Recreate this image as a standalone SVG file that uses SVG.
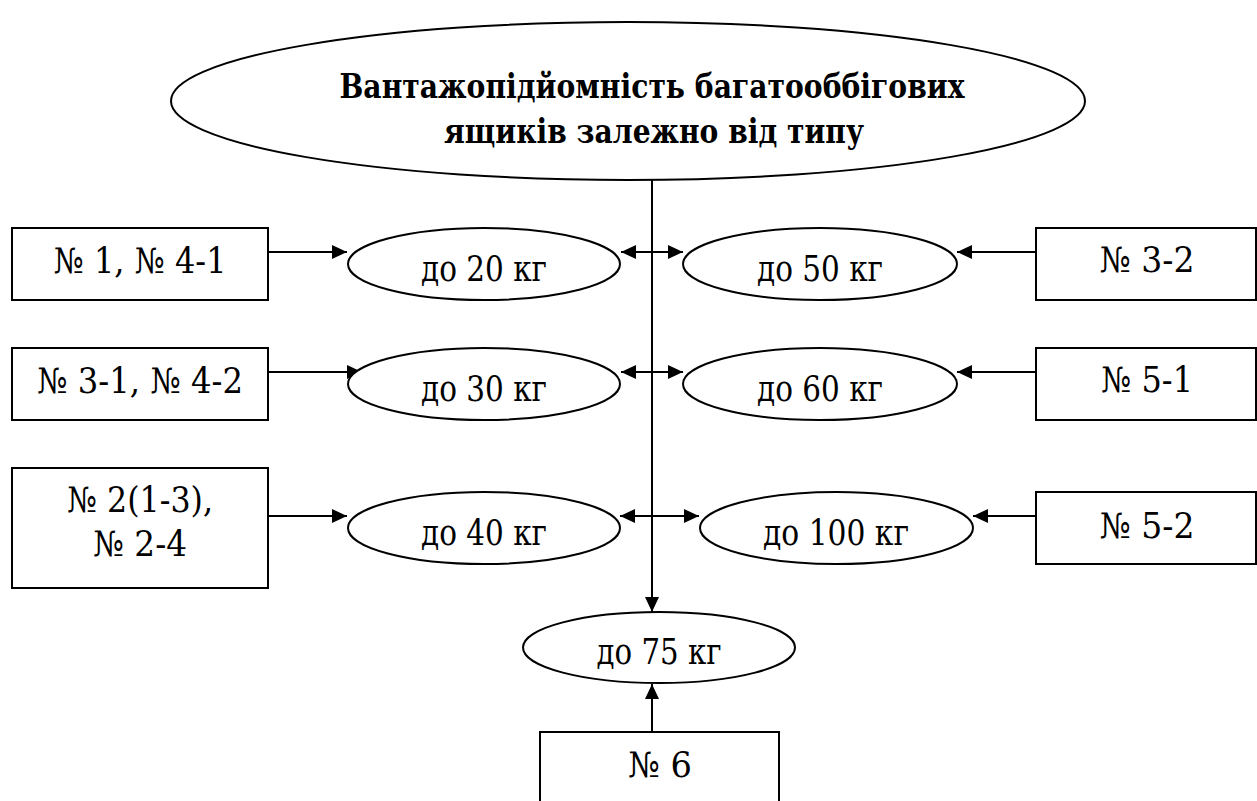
<svg xmlns="http://www.w3.org/2000/svg" width="1257" height="801" viewBox="0 0 1257 801">
  <style>
    .shape { fill: #fff; stroke: #000; stroke-width: 2; }
    .t { font-family: 'DejaVu Serif', serif; font-size: 35px; fill: #000; text-anchor: middle; }
    .title { font-weight: bold; font-size: 34px; }
    .conn { stroke: #000; stroke-width: 2; fill: none; }
  </style>
  <defs>
    <marker id="ah" markerUnits="userSpaceOnUse" markerWidth="16" markerHeight="15" refX="15" refY="7" orient="auto">
      <path d="M0,0 L15,7 L0,14 Z" fill="#000"/>
    </marker>
  </defs>
  <rect width="1257" height="801" fill="#fff"/>

  <g id="title">
    <ellipse class="shape" cx="628" cy="101" rx="457" ry="79"/>
    <text class="t title" x="652" y="98" textLength="625" lengthAdjust="spacingAndGlyphs">Вантажопідйомність багатооббігових</text>
    <text class="t title" x="654" y="143" textLength="420" lengthAdjust="spacingAndGlyphs">ящиків залежно від типу</text>
  </g>

  <g id="connectors">
    <line class="conn" x1="652" y1="180" x2="652" y2="612" marker-end="url(#ah)"/>
    <line class="conn" x1="268" y1="252" x2="347" y2="252" marker-end="url(#ah)"/>
    <line class="conn" x1="268" y1="372" x2="362" y2="372" marker-end="url(#ah)"/>
    <line class="conn" x1="268" y1="516" x2="347" y2="516" marker-end="url(#ah)"/>
    <line class="conn" x1="652" y1="252" x2="621" y2="252" marker-end="url(#ah)"/>
    <line class="conn" x1="652" y1="252" x2="683" y2="252" marker-end="url(#ah)"/>
    <line class="conn" x1="652" y1="372" x2="621" y2="372" marker-end="url(#ah)"/>
    <line class="conn" x1="652" y1="372" x2="683" y2="372" marker-end="url(#ah)"/>
    <line class="conn" x1="652" y1="516" x2="620" y2="516" marker-end="url(#ah)"/>
    <line class="conn" x1="652" y1="516" x2="699" y2="516" marker-end="url(#ah)"/>
    <line class="conn" x1="1036" y1="252" x2="957" y2="252" marker-end="url(#ah)"/>
    <line class="conn" x1="1036" y1="372" x2="957" y2="372" marker-end="url(#ah)"/>
    <line class="conn" x1="1036" y1="516" x2="973" y2="516" marker-end="url(#ah)"/>
    <line class="conn" x1="652" y1="732" x2="652" y2="684" marker-end="url(#ah)"/>
  </g>

  <g id="box-1-4-1">
    <rect class="shape" x="12" y="228" width="256" height="72"/>
    <text class="t" x="140" y="273" textLength="173" lengthAdjust="spacingAndGlyphs">№ 1, № 4-1</text>
  </g>
  <g id="box-3-1-4-2">
    <rect class="shape" x="12" y="348" width="256" height="72"/>
    <text class="t" x="140" y="393" textLength="206" lengthAdjust="spacingAndGlyphs">№ 3-1, № 4-2</text>
  </g>
  <g id="box-2-13-2-4">
    <rect class="shape" x="12" y="468" width="256" height="120"/>
    <text class="t" x="140" y="512" textLength="146" lengthAdjust="spacingAndGlyphs">№ 2(1-3),</text>
    <text class="t" x="140" y="556" textLength="94" lengthAdjust="spacingAndGlyphs">№ 2-4</text>
  </g>

  <g id="ell-20">
    <ellipse class="shape" cx="484" cy="264" rx="136" ry="36"/>
    <text class="t" x="484" y="281" textLength="126" lengthAdjust="spacingAndGlyphs">до 20 кг</text>
  </g>
  <g id="ell-30">
    <ellipse class="shape" cx="484" cy="384" rx="136" ry="36"/>
    <text class="t" x="484" y="401" textLength="126" lengthAdjust="spacingAndGlyphs">до 30 кг</text>
  </g>
  <g id="ell-40">
    <ellipse class="shape" cx="484" cy="528" rx="136" ry="36"/>
    <text class="t" x="484" y="545" textLength="126" lengthAdjust="spacingAndGlyphs">до 40 кг</text>
  </g>

  <g id="ell-50">
    <ellipse class="shape" cx="820" cy="264" rx="137" ry="36"/>
    <text class="t" x="820" y="281" textLength="126" lengthAdjust="spacingAndGlyphs">до 50 кг</text>
  </g>
  <g id="ell-60">
    <ellipse class="shape" cx="820" cy="384" rx="137" ry="36"/>
    <text class="t" x="820" y="401" textLength="126" lengthAdjust="spacingAndGlyphs">до 60 кг</text>
  </g>
  <g id="ell-100">
    <ellipse class="shape" cx="836.5" cy="528" rx="136.5" ry="36"/>
    <text class="t" x="836" y="545" textLength="146" lengthAdjust="spacingAndGlyphs">до 100 кг</text>
  </g>

  <g id="box-3-2">
    <rect class="shape" x="1036" y="228" width="220" height="72"/>
    <text class="t" x="1147" y="272" textLength="95" lengthAdjust="spacingAndGlyphs">№ 3-2</text>
  </g>
  <g id="box-5-1">
    <rect class="shape" x="1036" y="348" width="220" height="72"/>
    <text class="t" x="1147" y="392" textLength="92" lengthAdjust="spacingAndGlyphs">№ 5-1</text>
  </g>
  <g id="box-5-2">
    <rect class="shape" x="1036" y="492" width="220" height="72"/>
    <text class="t" x="1147" y="538" textLength="95" lengthAdjust="spacingAndGlyphs">№ 5-2</text>
  </g>

  <g id="ell-75">
    <ellipse class="shape" cx="659" cy="647.5" rx="136" ry="35.5"/>
    <text class="t" x="659" y="664" textLength="125" lengthAdjust="spacingAndGlyphs">до 75 кг</text>
  </g>
  <g id="box-6">
    <rect class="shape" x="540" y="732" width="239" height="90"/>
    <text class="t" x="660" y="777" textLength="64" lengthAdjust="spacingAndGlyphs">№ 6</text>
  </g>
</svg>
